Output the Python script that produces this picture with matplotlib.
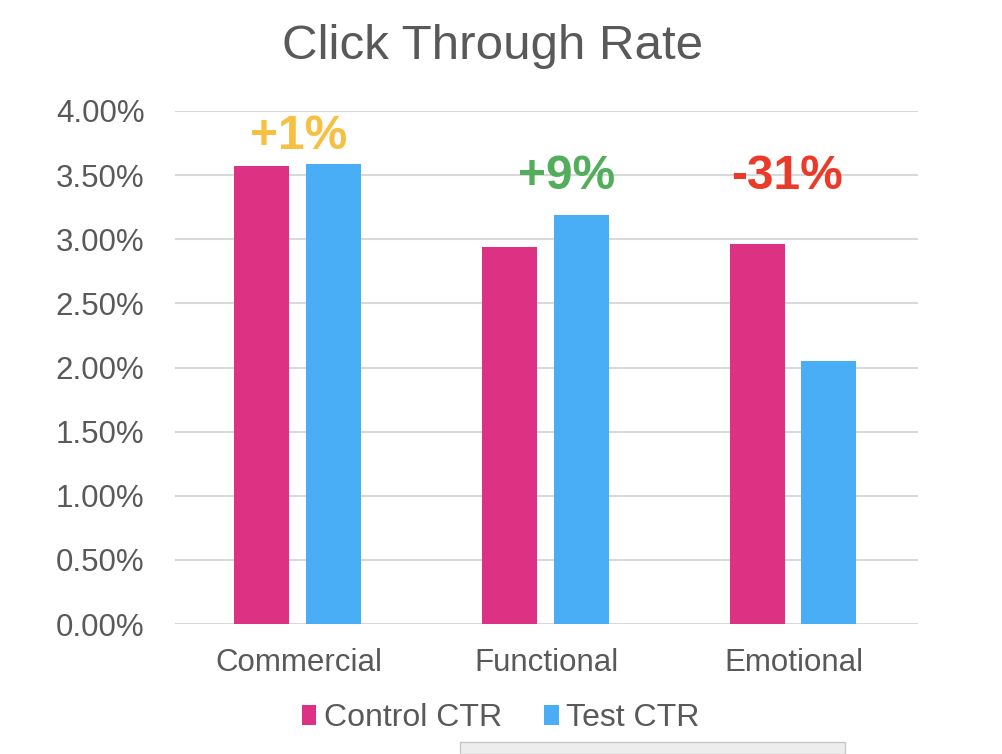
import numpy as np
import matplotlib
matplotlib.use("Agg")
import matplotlib.pyplot as plt
from matplotlib.ticker import FuncFormatter
from matplotlib.patches import Rectangle

# donnees (en %)
categories = ["Commercial", "Functional", "Emotional"]
control_ctr = [3.57, 2.94, 2.96]
test_ctr = [3.59, 3.19, 2.05]
lift_labels = ["+1%", "+9%", "-31%"]
lift_colors = ["#F6C143", "#52AE5A", "#EC3A28"]
lift_x = [0.0, 1.08, 1.97]
lift_y = [3.80, 3.49, 3.49]

plt.rcParams['font.family'] = ['Liberation Sans', 'DejaVu Sans']
txt = "#595959"

fig = plt.figure(figsize=(10.02, 7.54), dpi=100)
ax = fig.add_axes([175/1002, 1-624/754, 743/1002, 513/754])

x = np.arange(len(categories))
w = 0.222
ax.bar(x - 0.15, control_ctr, w, color="#DD3184", label="Control CTR", zorder=3)
ax.bar(x + 0.14, test_ctr, w, color="#4AAEF7", label="Test CTR", zorder=3)

for xi, yi, s, c in zip(lift_x, lift_y, lift_labels, lift_colors):
    ax.text(xi, yi, s, color=c, fontsize=34.5, fontweight="bold", ha="center", va="center", zorder=4)

ax.set_xlim(-0.5, 2.5)
ax.set_ylim(0, 4.0)
ax.set_yticks(np.arange(0, 4.01, 0.5))
ax.yaxis.set_major_formatter(FuncFormatter(lambda v, p: "%.2f%%" % v))
ax.set_xticks(x)
ax.set_xticklabels(categories)
ax.tick_params(axis='both', length=0, labelsize=22.5, colors=txt)
ax.tick_params(axis='x', pad=17)
ax.tick_params(axis='y', pad=22)
ax.grid(axis='y', color="#D9D9D9", linewidth=1.5, zorder=0)
for sp in ax.spines.values():
    sp.set_visible(False)

fig.text(0.492, 0.938, "Click Through Rate", ha="center", va="center", fontsize=35.5, color=txt)

leg = fig.legend(loc="center", bbox_to_anchor=(0.5, 1-718/754), ncol=2, frameon=False,
                 fontsize=23, handlelength=0.45, handleheight=0.6, handletextpad=0.25,
                 columnspacing=1.3, labelcolor=txt)

# petit cadre gris en bas (capture d'ecran)
fig.patches.append(Rectangle((460/1002, 0), 385/1002, 12/754, transform=fig.transFigure,
                             facecolor="#EDEDED", edgecolor="#C8C8C8", linewidth=1))

fig.savefig("out.png", dpi=100)
